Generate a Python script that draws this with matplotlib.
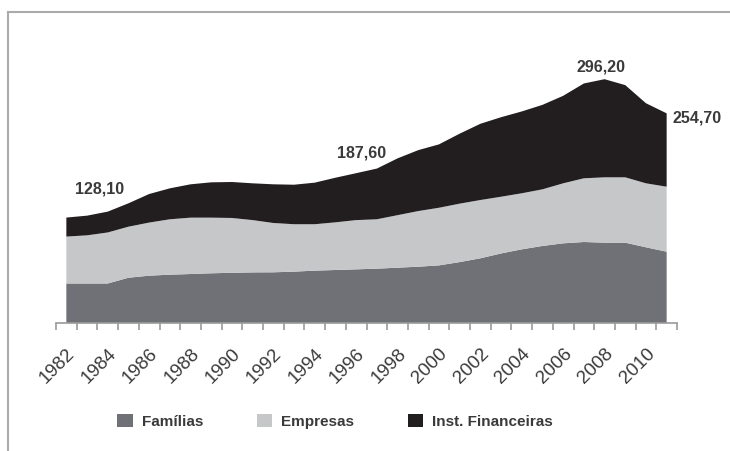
import numpy as np
import matplotlib
matplotlib.use("Agg")
import matplotlib.pyplot as plt
from matplotlib.patches import Patch
from matplotlib.ticker import FixedLocator

years = list(range(1982, 2012))

familias = [48.0, 48.0, 48.0, 55.0, 57.5, 58.7, 59.5, 60.4, 61.0, 61.5,
            61.6, 62.4, 63.6, 64.4, 65.2, 66.0, 67.2, 68.4, 70.0, 74.0,
            78.6, 84.5, 89.5, 93.6, 96.8, 98.4, 97.6, 97.6, 92.0, 86.6]
empresas = [57.0, 58.5, 62.0, 62.0, 64.5, 67.3, 68.5, 67.6, 66.6, 63.5,
            59.9, 57.6, 56.4, 57.9, 59.8, 60.0, 63.8, 67.6, 70.0, 71.0,
            70.8, 68.9, 68.1, 68.8, 72.9, 77.4, 79.4, 79.4, 77.7, 79.0]
financeiras = [23.1, 23.9, 25.3, 28.4, 34.7, 37.6, 40.5, 42.9, 43.7, 44.7,
               47.0, 48.0, 50.5, 54.2, 57.0, 61.6, 69.0, 74.0, 77.0, 85.0,
               92.6, 96.6, 99.4, 102.6, 106.3, 115.2, 119.2, 112.0, 97.3, 89.1]

series_names = ["Famílias", "Empresas", "Inst. Financeiras"]
colors = ["#707176", "#c6c7c9", "#221e1f"]

# years whose total gets a value label, with the label offset in pixels
labelled = {1982: (33, 29, "center"), 1997: (-15, 16, "center"),
            2008: (-4, 12, "center"), 2011: (6, -5, "left")}


def main():
    fig = plt.figure(figsize=(7.3, 4.51), dpi=100)
    ax = fig.add_axes([56 / 730, 128 / 451, 621 / 730, 263.4 / 451])

    x = np.arange(len(years))
    ax.stackplot(x, familias, empresas, financeiras, colors=colors,
                 linewidth=0)
    totals = np.array(familias) + np.array(empresas) + np.array(financeiras)

    ax.set_xlim(-0.5, len(years) - 0.5)
    ax.set_ylim(0, 320)
    for side in ["top", "right", "left"]:
        ax.spines[side].set_visible(False)
    ax.spines["bottom"].set_color("#9a9a9a")
    ax.spines["bottom"].set_linewidth(1.2)
    ax.set_yticks([])

    ax.set_xticks(x[::2])
    ax.set_xticklabels([str(y) for y in years[::2]], rotation=45,
                       ha="right", rotation_mode="anchor",
                       fontsize=13.5, color="#3a3a3a",
                       family="Liberation Sans")
    ax.tick_params(axis="x", which="major", length=0, pad=16)
    ax.xaxis.set_minor_locator(FixedLocator(np.arange(-0.5, len(years), 1)))
    ax.tick_params(axis="x", which="minor", length=5, width=1.2,
                   color="#9a9a9a", direction="out")

    for year, (dx, dy, ha) in labelled.items():
        i = years.index(year)
        ax.annotate(f"{totals[i]:.2f}".replace(".", ","), (i, totals[i]),
                    xytext=(dx, dy), textcoords="offset pixels",
                    ha=ha, va="center", fontsize=11.5, fontweight="bold",
                    color="#3a3a3a", family="Liberation Sans",
                    annotation_clip=False)

    handles = [Patch(facecolor=c, edgecolor="none") for c in colors]
    fig.legend(handles, series_names, loc="center", ncol=3,
               bbox_to_anchor=(0.459, 0.066), frameon=False,
               prop={"family": "Liberation Sans", "weight": "bold",
                     "size": 11},
               labelcolor="#3a3a3a", handlelength=1.0, handleheight=1.0,
               handletextpad=0.6, columnspacing=3.5)

    # thin grey frame along the top and left edges
    fig.add_artist(plt.Line2D([8 / 730, 8 / 730], [0, 1 - 12 / 451],
                              transform=fig.transFigure, color="#ababab",
                              linewidth=1.5))
    fig.add_artist(plt.Line2D([8 / 730, 1], [1 - 12 / 451, 1 - 12 / 451],
                              transform=fig.transFigure, color="#ababab",
                              linewidth=1.5))

    fig.savefig("out.png", dpi=100)


if __name__ == "__main__":
    main()
